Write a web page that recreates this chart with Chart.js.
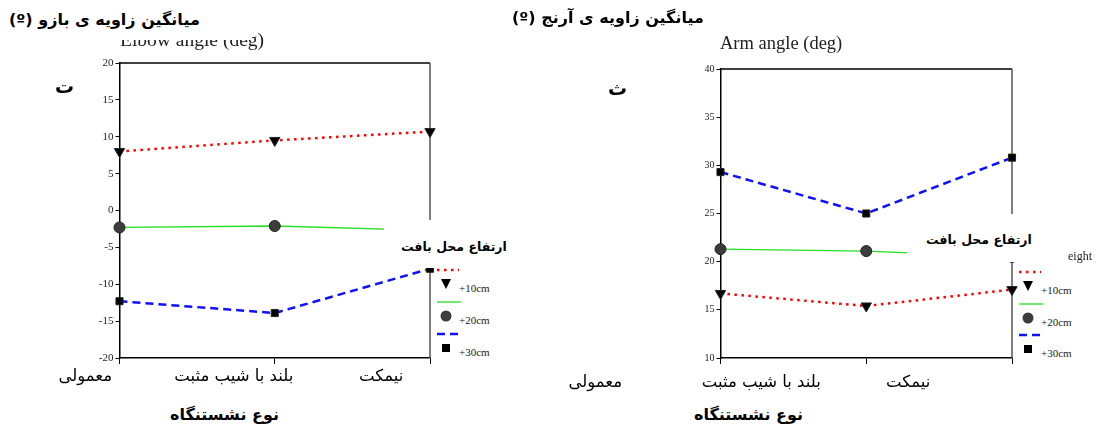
<!DOCTYPE html>
<html>
<head>
<meta charset="utf-8">
<script src="https://cdn.jsdelivr.net/npm/chart.js@4.4.0/dist/chart.umd.min.js"></script>
<style>
  body { margin: 0; background: #fff; width: 1097px; height: 430px; position: relative; overflow: hidden; font-family: "DejaVu Sans", sans-serif; }
  .abs { position: absolute; white-space: nowrap; }
  .fa { direction: rtl; color: #000; }
  .bold { font-weight: bold; }
  .serif { font-family: "Liberation Serif", serif; color: #222; }
  .cover { position: absolute; background: #fff; }
  .box { position: absolute; }
</style>
</head>
<body>
<div class="box" style="left:0;top:0;width:440px;height:372px;"><canvas id="elbow" width="440" height="372"></canvas></div>
<div class="box" style="left:600px;top:0;width:422px;height:372px;"><canvas id="arm" width="422" height="372"></canvas></div>

<!-- titles -->
<div class="abs serif" style="left:120px;top:29px;font-size:19.5px;">Elbow angle (deg)</div>
<div class="cover" style="left:0;top:0;width:252px;height:40px;"></div>
<div class="abs fa bold" style="left:9px;top:10px;font-size:16px;">میانگین زاویه ی بازو (º)</div>
<div class="abs serif" style="left:720px;top:33px;font-size:18.5px;">Arm angle (deg)</div>
<div class="abs fa bold" style="left:512px;top:8px;font-size:16px;">میانگین زاویه ی آرنج (º)</div>

<div class="abs fa bold" style="left:55px;top:75px;font-size:19px;">ت</div>
<div class="abs fa bold" style="left:608px;top:77px;font-size:19px;">ث</div>

<div class="abs fa bold" style="left:170px;top:405px;font-size:16px;">نوع نشستنگاه</div>
<div class="abs fa bold" style="left:694px;top:405px;font-size:16px;">نوع نشستنگاه</div>

<!-- legend covers -->
<div class="cover" style="left:384px;top:220px;width:126px;height:48px;"></div>
<div class="cover" style="left:907px;top:214px;width:190px;height:48px;"></div>

<div id="overlay"></div>

<script>
const categories = ["معمولی", "بلند با شیب مثبت", "نیمکت"];
const seriesNames = ["+10cm", "+20cm", "+30cm"];
const legendTitle = "ارتفاع محل بافت";

// elbow angle (deg)
const elbow10 = [8.0, 9.5, 10.7];
const elbow20 = [-2.3, -2.1, -2.7];
const elbow30 = [-12.3, -13.9, -7.9];
const elbowTicks = [-20, -15, -10, -5, 0, 5, 10, 15, 20];

// arm angle (deg)
const arm10 = [16.7, 15.4, 17.1];
const arm20 = [21.3, 21.1, 20.5];
const arm30 = [29.3, 25.0, 30.8];
const armTicks = [10, 15, 20, 25, 30, 35, 40];

const styles = [
  { color: "#ff0000", dash: [2.5, 4.5], width: 2.5, pointStyle: "triangle", rotation: 180, radius: 6, fill: "#000" },
  { color: "#22e022", dash: [], width: 1.3, pointStyle: "circle", rotation: 0, radius: 5.5, fill: "#3c3c3c" },
  { color: "#1010ff", dash: [8, 5], width: 2.5, pointStyle: "rect", rotation: 0, radius: 5, fill: "#000" }
];

const frame = {
  id: "frame",
  beforeDatasetsDraw(chart) {
    const a = chart.chartArea, ctx = chart.ctx;
    ctx.save();
    ctx.lineWidth = 1.5;
    ctx.strokeStyle = "#000";
    ctx.beginPath();
    ctx.moveTo(a.left, a.top);
    ctx.lineTo(a.right, a.top);
    ctx.stroke();
    ctx.strokeStyle = "#555";
    ctx.beginPath();
    ctx.moveTo(a.right, a.top);
    ctx.lineTo(a.right, a.bottom);
    ctx.stroke();
    ctx.restore();
  }
};

function makeChart(id, values, ticks, yWidth, padTop, tickFont) {
  const datasets = values.map((v, i) => ({
    label: seriesNames[i],
    data: v,
    borderColor: styles[i].color,
    borderDash: styles[i].dash,
    borderWidth: styles[i].width,
    pointStyle: styles[i].pointStyle,
    rotation: styles[i].rotation,
    pointRadius: styles[i].radius,
    pointBackgroundColor: styles[i].fill,
    pointBorderColor: "#222",
    pointBorderWidth: 1,
    tension: 0
  }));
  return new Chart(document.getElementById(id), {
    type: "line",
    data: { labels: categories, datasets },
    options: {
      responsive: false,
      animation: false,
      layout: { autoPadding: false, padding: { top: padTop, right: 10, left: 0, bottom: 0 } },
      plugins: { legend: { display: false }, tooltip: { enabled: false } },
      scales: {
        x: {
          offset: false,
          ticks: { display: false },
          grid: { drawOnChartArea: false, drawTicks: true, tickLength: 6, color: "#000" },
          border: { color: "#000", width: 1.5 },
          afterFit(s) { s.height = 14; }
        },
        y: {
          min: ticks[0],
          max: ticks[ticks.length - 1],
          afterBuildTicks(s) { s.ticks = ticks.map(v => ({ value: v })); },
          ticks: { color: "#222", font: { family: "Liberation Serif", size: tickFont }, padding: 2 },
          grid: { drawOnChartArea: false, drawTicks: true, tickLength: 4, color: "#000" },
          border: { color: "#000", width: 1.5 },
          afterFit(s) { s.width = yWidth; }
        }
      }
    },
    plugins: [frame]
  });
}

const elbowChart = makeChart("elbow", [elbow10, elbow20, elbow30], elbowTicks, 119.5, 63, 11);
const armChart = makeChart("arm", [arm10, arm20, arm30], armTicks, 120.5, 69, 10);

const overlay = document.getElementById("overlay");
function addText(txt, css, cls) {
  const d = document.createElement("div");
  d.className = "abs " + cls;
  d.style.cssText = css;
  d.textContent = txt;
  overlay.appendChild(d);
  return d;
}

// category labels (shifted left as in the figure)
function catLabels(chart, boxLeft, shifts, top) {
  const xs = chart.scales.x;
  categories.forEach((c, i) => {
    const cx = boxLeft + xs.getPixelForValue(i) + shifts[i];
    const d = addText(c, "top:" + top + "px;font-size:16.5px;", "fa");
    d.style.left = (cx - d.offsetWidth / 2) + "px";
  });
}
catLabels(elbowChart, 0, [-34, -41, -49], 366);
catLabels(armChart, 600, [-125, -105, -104], 372);

// legends
function legend(titleRight, titleTop, x, ys) {
  const t = addText(legendTitle, "top:" + titleTop + "px;font-size:12.5px;", "fa bold");
  t.style.left = (titleRight - t.offsetWidth) + "px";
  const svgNS = "http://www.w3.org/2000/svg";
  const svg = document.createElementNS(svgNS, "svg");
  svg.setAttribute("width", "60");
  svg.setAttribute("height", "100");
  svg.style.cssText = "position:absolute;left:" + x + "px;top:" + ys[0] + "px;overflow:visible;";
  seriesNames.forEach((n, i) => {
    const st = styles[i];
    const y0 = ys[i] - ys[0];
    const ln = document.createElementNS(svgNS, "line");
    ln.setAttribute("x1", 0); ln.setAttribute("x2", i === 1 ? 24 : 22);
    ln.setAttribute("y1", y0); ln.setAttribute("y2", y0);
    ln.setAttribute("stroke", st.color);
    ln.setAttribute("stroke-width", st.width);
    if (st.dash.length) ln.setAttribute("stroke-dasharray", st.dash.join(" "));
    svg.appendChild(ln);
    const my = y0 + 14, mx = 9;
    let m;
    if (st.pointStyle === "triangle") {
      m = document.createElementNS(svgNS, "polygon");
      m.setAttribute("points", (mx - 5) + "," + (my - 5) + " " + (mx + 5) + "," + (my - 5) + " " + mx + "," + (my + 5));
    } else if (st.pointStyle === "circle") {
      m = document.createElementNS(svgNS, "circle");
      m.setAttribute("cx", mx); m.setAttribute("cy", my); m.setAttribute("r", 5.5);
    } else {
      m = document.createElementNS(svgNS, "rect");
      m.setAttribute("x", mx - 4); m.setAttribute("y", my - 4); m.setAttribute("width", 8); m.setAttribute("height", 8);
    }
    m.setAttribute("fill", st.fill);
    svg.appendChild(m);
    addText(n, "left:" + (x + 22) + "px;top:" + (ys[i] + 12) + "px;font-size:11px;", "serif");
  });
  overlay.appendChild(svg);
}
legend(507, 239, 437, [270, 302, 334]);
legend(1032, 232, 1019, [272, 304, 335]);
addText("eight", "left:1068px;top:249px;font-size:12px;", "serif");
</script>
</body>
</html>
